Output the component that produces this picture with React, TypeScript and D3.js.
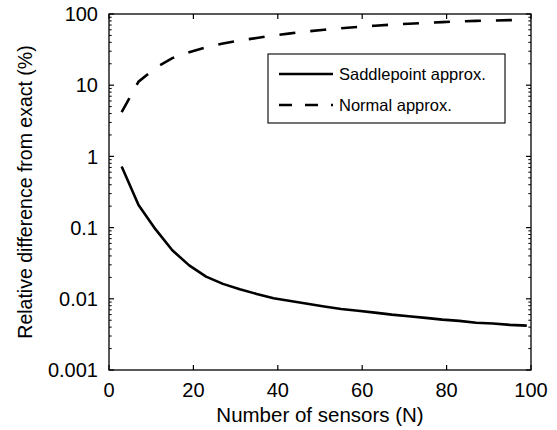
import React from "react";
import * as d3 from "d3";

const sensors = [3, 7, 11, 15, 19, 23, 27, 31, 35, 39, 43, 47, 51, 55, 59, 63, 67, 71, 75, 79, 83, 87, 91, 95, 99];
const saddlepoint = [0.72, 0.207, 0.095, 0.048, 0.0295, 0.0205, 0.0162, 0.0136, 0.0117, 0.0102, 0.0093, 0.0085, 0.0078, 0.0072, 0.0068, 0.0064, 0.006, 0.0057, 0.0054, 0.0051, 0.0049, 0.0046, 0.0045, 0.0043, 0.0042];
const normal = [4.2, 11.2, 17.5, 24, 29, 34, 38.5, 42.5, 46, 50, 53.5, 57, 60, 63, 66, 68.5, 71, 73, 75, 77, 78.5, 80, 81, 82, 83];
const xTicks = [0, 20, 40, 60, 80, 100];
const yTicks = [0.001, 0.01, 0.1, 1, 10, 100];
const yTickLabels = ["0.001", "0.01", "0.1", "1", "10", "100"];
const legendLabels = ["Saddlepoint approx.", "Normal approx."];

const W = 557, H = 430;
const L = 109, R = 531, T = 14, B = 370;
const FONT = "'Liberation Sans', Arial, Helvetica, sans-serif";

export default function App() {
  const x = d3.scaleLinear().domain([0, 100]).range([L, R]);
  const y = d3.scaleLog().domain([0.001, 100]).range([B, T]);
  const line = (vals: number[]) =>
    d3.line<number>().x((_, i) => x(sensors[i])).y((v) => y(v))(vals) || "";

  const minor: number[] = [];
  for (let e = -3; e < 2; e++) {
    for (let k = 2; k <= 9; k++) minor.push(k * Math.pow(10, e));
  }

  return (
    <svg width={W} height={H} style={{ position: "absolute", left: 0, top: 0, background: "#fff" }}>
      <rect x={0} y={0} width={W} height={H} fill="#fff" />
      {/* ticks */}
      {xTicks.map((t) => (
        <g key={"xt" + t}>
          <line x1={x(t)} x2={x(t)} y1={B} y2={B - 5} stroke="#000" strokeWidth={1.2} />
          <line x1={x(t)} x2={x(t)} y1={T} y2={T + 5} stroke="#000" strokeWidth={1.2} />
          <text x={x(t)} y={397} textAnchor="middle" fontSize={20} fontFamily={FONT}>{t}</text>
        </g>
      ))}
      {yTicks.map((t, i) => (
        <g key={"yt" + t}>
          <line x1={L} x2={L + 5} y1={y(t)} y2={y(t)} stroke="#000" strokeWidth={1.2} />
          <line x1={R} x2={R - 5} y1={y(t)} y2={y(t)} stroke="#000" strokeWidth={1.2} />
          <text x={98} y={y(t)} dy="0.36em" textAnchor="end" fontSize={20} fontFamily={FONT}>{yTickLabels[i]}</text>
        </g>
      ))}
      {minor.map((t, i) => (
        <g key={"mn" + i}>
          <line x1={L} x2={L + 2.7} y1={y(t)} y2={y(t)} stroke="#000" strokeWidth={1} />
          <line x1={R} x2={R - 2.7} y1={y(t)} y2={y(t)} stroke="#000" strokeWidth={1} />
        </g>
      ))}
      {/* curves */}
      <path d={line(saddlepoint)} fill="none" stroke="#000" strokeWidth={2.6} strokeLinejoin="round" />
      <path d={line(normal)} fill="none" stroke="#000" strokeWidth={2.6} strokeDasharray="16,15" />
      {/* frame */}
      <rect x={L} y={T} width={R - L} height={B - T} fill="none" stroke="#000" strokeWidth={1.3} />
      {/* legend */}
      <rect x={268} y={54} width={237} height={69} fill="#fff" stroke="#000" strokeWidth={1.1} />
      <line x1={279} x2={333} y1={74} y2={74} stroke="#000" strokeWidth={2.6} />
      <line x1={279} x2={333} y1={105} y2={105} stroke="#000" strokeWidth={2.6} strokeDasharray="13,13" />
      <text x={339} y={74} dy="0.36em" fontSize={16.5} fontFamily={FONT}>{legendLabels[0]}</text>
      <text x={339} y={105} dy="0.36em" fontSize={16.5} fontFamily={FONT}>{legendLabels[1]}</text>
      {/* axis labels */}
      <text x={(L + R) / 2} y={422} textAnchor="middle" fontSize={20.5} fontFamily={FONT}>Number of sensors (N)</text>
      <text transform={`translate(32,${(T + B) / 2}) rotate(-90)`} textAnchor="middle" fontSize={19.5} fontFamily={FONT}>Relative difference from exact (%)</text>
    </svg>
  );
}
